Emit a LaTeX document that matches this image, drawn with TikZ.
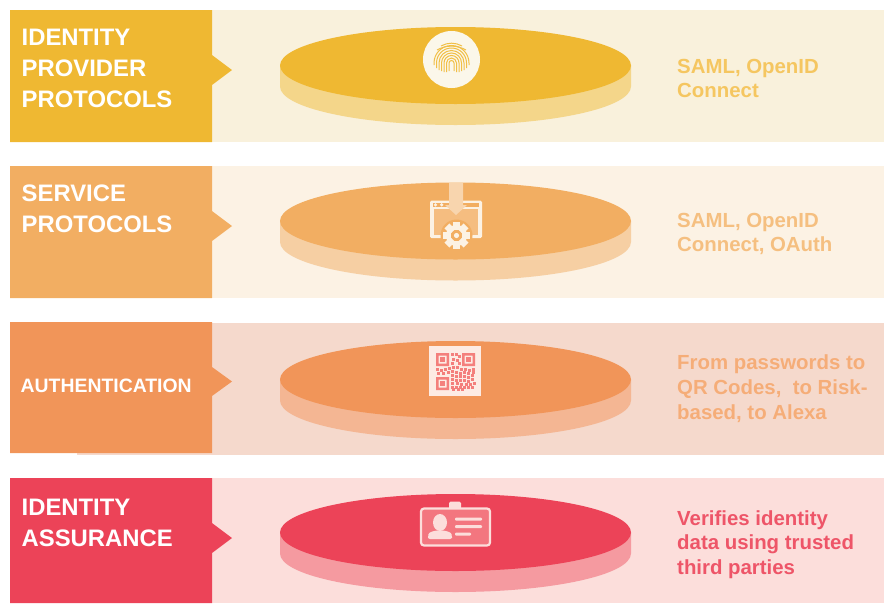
\documentclass[tikz,border=0pt]{standalone}
\usepackage{fontspec}
\setmainfont{Liberation Sans}
\begin{document}
\begin{tikzpicture}[x=1pt,y=-1pt,line join=miter,
  headtext/.style={anchor=west,align=left,inner sep=0pt,text=white,font=\bfseries\fontsize{23.85}{31}\selectfont},
  sidetext/.style={anchor=west,align=left,inner sep=0pt,font=\bfseries\fontsize{20.4}{24.7}\selectfont}]
\useasboundingbox (0,0) rectangle (884,603);
\definecolor{yA}{HTML}{EFB832}\definecolor{yB}{HTML}{F9F1DC}\definecolor{yC}{HTML}{F4D68A}\definecolor{yT}{HTML}{F5C660}
\definecolor{oA}{HTML}{F2AE62}\definecolor{oB}{HTML}{FCF2E4}\definecolor{oC}{HTML}{F6CFA3}\definecolor{oT}{HTML}{F5BF80}
\definecolor{rA}{HTML}{F19559}\definecolor{rB}{HTML}{F5D9CC}\definecolor{rC}{HTML}{F4B693}\definecolor{rT}{HTML}{F5AD78}
\definecolor{pA}{HTML}{EC4358}\definecolor{pB}{HTML}{FCDEDB}\definecolor{pC}{HTML}{F59AA0}\definecolor{pT}{HTML}{EE5568}
\definecolor{qrInk}{HTML}{F47F7C}\definecolor{qrPaper}{HTML}{FDEBE4}\definecolor{cardFill}{HTML}{F3767F}
\definecolor{panel}{HTML}{F5BD80}\definecolor{arrowFill}{HTML}{F8D5AE}
% row backgrounds
\fill[yB] (212,10) rectangle (884,142);
\fill[oB] (212,166) rectangle (884,298);
\fill[rB] (77,323) rectangle (884,455);
\fill[pB] (212,478) rectangle (884,603);
% head boxes with pointers
\fill[yA] (10,10) -- (212,10) -- (212,55) -- (232,70) -- (212,85) -- (212,142) -- (10,142) -- cycle;
\fill[oA] (10,166) -- (212,166) -- (212,211) -- (232,226) -- (212,241) -- (212,298) -- (10,298) -- cycle;
\fill[rA] (10,322) -- (212,322) -- (212,367) -- (232,381.5) -- (212,396) -- (212,453) -- (10,453) -- cycle;
\fill[pA] (10,478) -- (212,478) -- (212,523) -- (232,538) -- (212,553) -- (212,603) -- (10,603) -- cycle;
% discs
\foreach \cy/\sc/\tc in {65.5/yC/yA,221/oC/oA,379.5/rC/rA,532.5/pC/pA}{
  \fill[\sc] (280,\cy) -- ++(0,21) arc[start angle=180,end angle=360,x radius=175.5,y radius=-38.5] -- ++(0,-21) -- cycle;
  \fill[\tc] (455.5,\cy) ellipse[x radius=175.5,y radius=38.5];
}
% heading text
\node[headtext] (h1) at (21.5,68) {IDENTITY\\PROVIDER\\PROTOCOLS};
\node[headtext] (h2) at (21.5,209) {SERVICE\\PROTOCOLS};
\node[headtext,font=\bfseries\fontsize{19.4}{24}\selectfont] (h3) at (20.5,386) {AUTHENTICATION};
\node[headtext] (h4) at (21.5,523) {IDENTITY\\ASSURANCE};
% side text
\node[sidetext,text=yT] (s1) at (677,78.5) {SAML, OpenID\\Connect};
\node[sidetext,text=oT] (s2) at (677,234) {SAML, OpenID\\Connect, OAuth};
\node[sidetext,text=rT] (s3) at (677,388.5) {From passwords to\\QR Codes,\ \ to Risk-\\based, to Alexa};
\node[sidetext,text=pT] (s4) at (677,544.5) {Verifies identity\\data using trusted\\third parties};
% fingerprint icon
\fill[yB!60!white] (451.5,59.5) circle[radius=28.5];
\begin{scope}[yA!90!white,line width=1pt]
  \foreach \r/\e in {2.5/71,5/72,7.5/72,10/71,12.5/70,15/68,17.5/65}{
    \draw (451.5-\r,\e) -- (451.5-\r,63) arc[start angle=180,end angle=360,x radius=\r,y radius=\r] -- (451.5+\r,\e);
  }
  \draw (437,50) arc[start angle=240,end angle=300,radius=29,y radius=29];
  \draw (441,46) arc[start angle=240,end angle=300,radius=21,y radius=21];
\end{scope}
% service icon
\fill[oB,rounded corners=1.5pt] (430,200.5) rectangle (482,238);
\fill[oA] (433,202.5) rectangle (479,207);
\fill[panel] (434,208.5) rectangle (478,235);
\fill[oB] (435.5,204.8) circle[radius=1.8] (441.7,204.8) circle[radius=1.8];
\fill[arrowFill] (449,183) -- (463,183) -- (463,205) -- (467,205) -- (456,215) -- (445,205) -- (449,205) -- cycle;
\fill[oA] (456.5,235.5) circle[radius=16];
\foreach \a in {0,45,...,315}{
  \fill[oB,rotate around={\a:(456.5,235.5)}] (453,222) -- (460,222) -- (460,230) -- (453,230) -- cycle;
}
\fill[oB,even odd rule] (456.5,235.5) circle[radius=10.5] (456.5,235.5) circle[radius=6];
\fill[oB] (456.5,235.5) circle[radius=2.6];
% QR icon
\fill[qrPaper] (429,346) rectangle (481,396);
\begin{scope}[qrInk]
  \fill[even odd rule] (436,353) rectangle (449,366) (438.5,355.5) rectangle (446.5,363.5);
  \fill (440,357) rectangle (445,362);
  \fill[even odd rule] (462,353) rectangle (475,366) (464.5,355.5) rectangle (472.5,363.5);
  \fill (466,357) rectangle (471,362);
  \fill[even odd rule] (436,377) rectangle (449,390) (438.5,379.5) rectangle (446.5,387.5);
  \fill (440,381) rectangle (445,386);
  \foreach \x/\y in {451/353,455/353,458/355,452/358,456/359,451/362,458/362,436/368,440/369,444/368,448/367,452/366,456/366,460/368,464/368,468/369,472/368,472/371,437/372,442/372,447/371,451/370,455/371,459/372,463/371,467/372,471/374,451/374,455/375,459/375,463/375,467/376,471/378,451/378,455/379,459/379,463/379,467/380,451/382,456/382,460/383,465/383,469/383,473/382,451/386,455/386,459/386,463/386,467/386,471/386,452/388,457/388,461/388}{
    \fill (\x,\y) rectangle ++(3.3,3.3);
  }
\end{scope}
% ID card icon
\fill[pB,rounded corners=1.5pt] (449,501.5) rectangle (461,509);
\fill[cardFill,rounded corners=3pt,draw=pB,line width=2.2pt] (421,508.5) rectangle (490,545.5);
\fill[pB] (440,522.5) ellipse[x radius=7,y radius=8.5];
\fill[pB,rounded corners=2pt] (428,539) -- (428,536) .. controls (429,532) and (435,530.5) .. (440,530.5) .. controls (445,530.5) and (451,532) .. (452,536) -- (452,539) -- cycle;
\fill[pB,rounded corners=1pt] (455,517.5) rectangle (482,520.5) (455,525) rectangle (482,528) (455,532.5) rectangle (471,535.5);
\end{tikzpicture}
\end{document}
